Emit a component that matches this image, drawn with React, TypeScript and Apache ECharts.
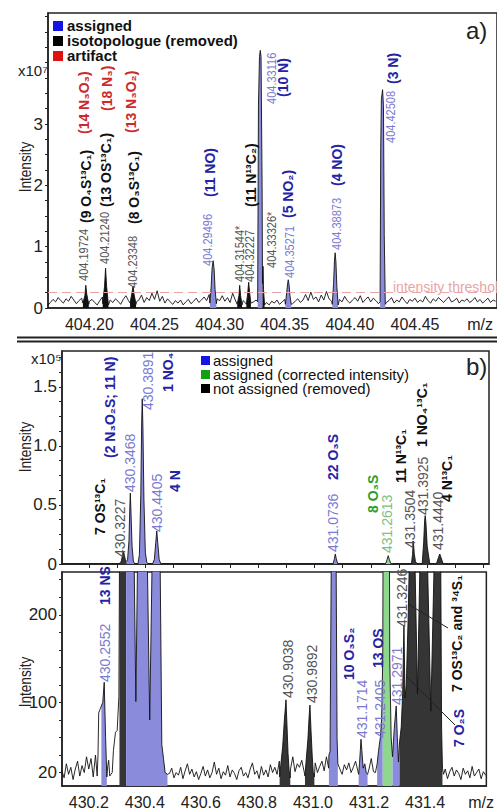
import { useEffect, useRef } from "react";
import * as echarts from "echarts";

const FONT = "'Liberation Sans', Arial, Helvetica, sans-serif";

// ---------------- panel a) data : m/z , intensity (x10^7) ----------------
const A_NOISE_START = 404.168;
const A_NOISE_STEP = 0.002;
const aNoise = [
  0.04, 0.09, 0.14, 0.10, 0.17, 0.12, 0.08, 0.15, 0.11, 0.19, 0.13, 0.07, 0.12, 0.16, 0.10, 0.06,
  0.11, 0.14, 0.09, 0.05, 0.12, 0.18, 0.10, 0.07, 0.13, 0.09, 0.15, 0.11, 0.06, 0.14, 0.20, 0.12,
  0.08, 0.16, 0.10, 0.13, 0.21, 0.09, 0.17, 0.12, 0.24, 0.14, 0.28, 0.11, 0.19, 0.08, 0.15, 0.10,
  0.06, 0.12, 0.08, 0.13, 0.05, 0.10, 0.14, 0.07, 0.11, 0.16, 0.09, 0.13, 0.18, 0.12, 0.22, 0.10,
  0.08, 0.15, 0.12, 0.20, 0.11, 0.17, 0.09, 0.24, 0.13, 0.10, 0.16, 0.12, 0.08, 0.14, 0.19, 0.10,
  0.13, 0.07, 0.12, 0.16, 0.09, 0.05, 0.11, 0.08, 0.13, 0.06, 0.10, 0.14, 0.08, 0.12, 0.07, 0.11,
  0.15, 0.09, 0.13, 0.22, 0.12, 0.26, 0.14, 0.18, 0.10, 0.21, 0.13, 0.27, 0.15, 0.11, 0.17, 0.09,
  0.14, 0.10, 0.19, 0.12, 0.08, 0.13, 0.17, 0.11, 0.20, 0.09, 0.14, 0.18, 0.10, 0.16, 0.12, 0.07,
  0.11, 0.15, 0.09, 0.12, 0.17, 0.08, 0.13, 0.10, 0.18, 0.12, 0.07, 0.14, 0.11, 0.16, 0.09, 0.13,
  0.10, 0.19, 0.12, 0.08, 0.15, 0.11, 0.17, 0.13, 0.09, 0.14, 0.18, 0.10, 0.12, 0.16, 0.08, 0.13,
  0.11, 0.15, 0.09, 0.12, 0.17, 0.10, 0.14, 0.08, 0.12, 0.16, 0.09, 0.13, 0.11,
];
const aPeak19724 = [[404.1950, 0.08], [404.1965, 0.2], [404.1972, 0.37], [404.1980, 0.22], [404.1995, 0.06]];
const aPeak21240 = [[404.2102, 0.07], [404.2116, 0.35], [404.2124, 0.65], [404.2132, 0.35], [404.2146, 0.05]];
const aPeak23348 = [[404.2312, 0.08], [404.2327, 0.25], [404.2335, 0.36], [404.2343, 0.22], [404.2358, 0.06]];
const aPeak29496 = [[404.2925, 0.08], [404.2935, 0.35], [404.2942, 0.65], [404.2950, 0.77], [404.2958, 0.62], [404.2965, 0.3], [404.2975, 0.07]];
const aPeak31544 = [[404.3135, 0.06], [404.3148, 0.2], [404.3154, 0.37], [404.3161, 0.2], [404.3172, 0.05]];
const aPeak32227 = [[404.3205, 0.06], [404.3216, 0.25], [404.3223, 0.42], [404.3230, 0.25], [404.3240, 0.08]];
const aPeak33116 = [[404.3292, 0.1], [404.3298, 3.3], [404.3306, 4.1], [404.3312, 4.2], [404.3318, 4.1], [404.3326, 2.0], [404.3329, 0.4], [404.3333, 0.68], [404.3337, 0.3], [404.3345, 0.05]];
const aPeak35271 = [[404.3505, 0.06], [404.3515, 0.25], [404.3522, 0.40], [404.3527, 0.46], [404.3533, 0.38], [404.3540, 0.2], [404.3550, 0.06]];
const aPeak38873 = [[404.3865, 0.06], [404.3875, 0.40], [404.3882, 0.78], [404.3887, 0.9], [404.3893, 0.75], [404.3900, 0.35], [404.3910, 0.05]];
const aPeak42508 = [[404.4232, 0.1], [404.4237, 2.6], [404.4242, 3.4], [404.4251, 3.56], [404.4258, 3.3], [404.4264, 1.2], [404.4272, 0.06]];
const aFills = [
  [404.1950, 404.1995, "removed"], [404.2102, 404.2146, "removed"], [404.2312, 404.2358, "removed"],
  [404.2925, 404.2975, "assigned"], [404.3135, 404.3172, "removed"], [404.3205, 404.3240, "removed"],
  [404.3292, 404.3329, "assigned"], [404.3329, 404.3345, "removed"], [404.3505, 404.3550, "assigned"],
  [404.3865, 404.3910, "assigned"], [404.4232, 404.4272, "assigned"],
];
const aThreshold = 0.25;
const aXTicks = [404.2, 404.25, 404.3, 404.35, 404.4, 404.45, 404.5];
const aYTicks = [0, 1, 2, 3];

// ---------------- panel b) data : m/z , intensity (absolute) ----------------
const B_NOISE_START = 430.104;
const B_NOISE_STEP = 0.008;
const bNoise = [
  22, 14, 30, 18, 26, 12, 24, 33, 16, 28, 20, 38, 24, 36, 15, 40, 22, 14, 19, 26,
  18, 24, 30, 16, 22, 12, 20, 27, 15, 24, 19, 28, 14, 22, 17, 25, 12, 20, 26, 15,
  21, 13, 24, 18, 28, 16, 22, 11, 19, 25, 14, 20, 17, 26, 13, 22, 30, 18, 24, 15,
  21, 12, 19, 27, 16, 23, 14, 20, 32, 18, 25, 13, 21, 17, 28, 15, 23, 19, 12, 22,
  26, 16, 20, 14, 24, 31, 18, 22, 13, 27, 17, 23, 15, 29, 20, 26, 18, 33, 22, 28,
  19, 35, 24, 38, 21, 30, 26, 34, 22, 40, 28, 36, 24, 31, 20, 27, 33, 22, 38, 25,
  30, 21, 27, 35, 24, 18, 29, 23, 31, 20, 26, 33, 22, 28, 19, 25, 30, 24, 36, 21,
  27, 32, 20, 29, 24, 35, 22, 30, 26, 18, 24, 31, 20, 27, 15, 22, 28, 18, 25, 14,
  21, 27, 16, 23, 12, 20, 26, 15, 22, 29, 17, 24, 13, 21, 26, 16, 23, 19, 12, 25,
  18, 22, 14, 27, 16, 20, 24, 13, 21, 17,
];
const bPeak2552 = [[430.2300, 16], [430.2330, 40], [430.2355, 88], [430.2400, 92], [430.2450, 96], [430.2500, 100], [430.2552, 123], [430.2600, 60], [430.2645, 15], [430.2680, 28], [430.2710, 34], [430.2750, 16]];
const bCluster430 = [
  [430.2790, 18], [430.2837, 20], [430.2880, 45], [430.2954, 66], [430.3014, 68], [430.3075, 107], [430.3096, 260],
  [430.3150, 2500], [430.3195, 8000], [430.3227, 11000], [430.3260, 7000], [430.3300, 2600], [430.3333, 2200],
  [430.3370, 3500], [430.3420, 20000], [430.3450, 48000], [430.3468, 60000], [430.3490, 45000], [430.3530, 15000],
  [430.3575, 2500], [430.3620, 260], [430.3680, 101], [430.3740, 260], [430.3790, 8000], [430.3840, 60000],
  [430.3870, 120000], [430.3891, 140000], [430.3915, 115000], [430.3950, 55000], [430.4000, 10000], [430.4050, 1500],
  [430.4090, 260], [430.4175, 80], [430.4260, 260], [430.4320, 4000], [430.4370, 18000], [430.4405, 28000],
  [430.4440, 18000], [430.4490, 4000], [430.4547, 260], [430.4607, 52], [430.4670, 35], [430.4724, 20], [430.4809, 18],
];
const bPeak9038 = [[430.8811, 15], [430.8850, 28], [430.8920, 50], [430.8980, 80], [430.9038, 103], [430.9075, 72], [430.9110, 42], [430.9150, 22], [430.9190, 14]];
const bPeak9892 = [[430.9715, 16], [430.9760, 35], [430.9820, 58], [430.9860, 82], [430.9892, 97], [430.9930, 68], [430.9975, 38], [431.0010, 20], [431.0050, 15]];
const bPeak0736 = [[431.0569, 40], [431.0610, 44], [431.0660, 300], [431.0705, 4500], [431.0736, 8500], [431.0770, 4500], [431.0820, 300], [431.0860, 60], [431.0888, 30]];
const bPeak1714 = [[431.1630, 18], [431.1660, 30], [431.1690, 45], [431.1714, 58], [431.1745, 45], [431.1790, 25], [431.1850, 30], [431.1900, 20], [431.1948, 18]];
const bCluster431 = [
  [431.2230, 20], [431.2290, 30], [431.2340, 45], [431.2405, 60], [431.2450, 80], [431.2490, 150], [431.2530, 600],
  [431.2575, 4000], [431.2613, 7000], [431.2650, 4000], [431.2700, 600], [431.2740, 150], [431.2790, 60],
  [431.2840, 38], [431.2900, 70], [431.2971, 96], [431.3010, 60], [431.3050, 32], [431.3090, 55], [431.3150, 72],
  [431.3200, 110], [431.3246, 188], [431.3285, 105], [431.3330, 120], [431.3400, 200], [431.3438, 260],
  [431.3475, 8000], [431.3504, 19500], [431.3535, 9000], [431.3580, 2000], [431.3640, 260], [431.3729, 110],
  [431.3818, 260], [431.3870, 18000], [431.3905, 37000], [431.3925, 41000], [431.3950, 35000], [431.3995, 15000],
  [431.4087, 260], [431.4206, 90], [431.4325, 260], [431.4395, 5500], [431.4440, 8500], [431.4485, 5500],
  [431.4560, 260], [431.4590, 70], [431.4620, 25], [431.4660, 18],
];
const bFills = [
  [430.2450, 430.2645, "assigned"], [430.3096, 430.3333, "removed"], [430.3333, 430.4809, "assigned"],
  [430.8811, 430.9190, "removed"], [430.9715, 431.0050, "removed"], [431.0569, 431.0888, "assigned"],
  [431.1630, 431.1948, "assigned"], [431.2290, 431.2490, "assigned"], [431.2490, 431.2840, "corrected"],
  [431.2840, 431.3090, "assigned"], [431.3090, 431.4620, "removed"],
];
const bXLabels = [430.2, 430.4, 430.6, 430.8, 431.0, 431.2, 431.4, 431.6];
const bXTicks = [430.2, 430.3, 430.4, 430.5, 430.6, 430.7, 430.8, 430.9, 431.0, 431.1, 431.2, 431.3, 431.4, 431.5, 431.6];
const bTopYLabels = [0, 50000, 100000, 150000];
const bBotYLabels = [20, 100, 200];
const bBotYTicks = [20, 40, 60, 80, 100, 120, 140, 160, 180, 200, 220, 240];

// ---------------- helpers ----------------
function buildTrace(start: number, step: number, noise: number[], peaks: number[][][]) {
  const pts: number[][] = [];
  noise.forEach((v, i) => {
    const x = +(start + i * step).toFixed(4);
    const inside = peaks.some((p) => x >= p[0][0] && x <= p[p.length - 1][0]);
    if (!inside) pts.push([x, v]);
  });
  peaks.forEach((p) => p.forEach((q) => pts.push(q)));
  pts.sort((a, b) => a[0] - b[0]);
  return pts;
}
const inRange = (trace: number[][], a: number, b: number) =>
  trace.filter((p) => p[0] >= a - 1e-7 && p[0] <= b + 1e-7);

const COL = {
  fillBlue: "#8b8bdc",
  fillGreen: "#8fd68f",
  fillDarkA: "#111111",
  fillDarkB: "#353535",
  grey: "#555555",
  lblue: "#7a7ad2",
  lgreen: "#80c080",
  blue: "#2323a6",
  red: "#cc2a2a",
  green: "#2e9e2e",
  black: "#111111",
  axis: "#222222",
};

const vt = (x: number, yb: number, text: string, fill: string, size: number, bold: boolean, sx = 1) => ({
  type: "text", x, y: yb, rotation: Math.PI / 2, scaleX: sx, z: 100,
  style: { text, fill, fontSize: size, fontWeight: bold ? "bold" : "normal", fontFamily: FONT, align: "left", verticalAlign: "middle" },
});
const ht = (x: number, y: number, text: string, fill: string, size: number, bold = false, align = "left", lh?: number) => ({
  type: "text", x, y, z: 100,
  style: { text, fill, fontSize: size, fontWeight: bold ? "bold" : "normal", fontFamily: FONT, align, verticalAlign: "middle", ...(lh ? { lineHeight: lh } : {}) },
});
const sq = (x: number, y: number, w: number, fill: string) => ({ type: "rect", z: 100, shape: { x, y, width: w, height: w }, style: { fill } });
const ln = (x1: number, y1: number, x2: number, y2: number, w: number) => ({ type: "line", z: 100, shape: { x1, y1, x2, y2 }, style: { stroke: COL.axis, lineWidth: w } });

export default function App() {
  const ref = useRef<HTMLDivElement>(null);
  useEffect(() => {
    if (!ref.current) return;
    const chart = echarts.init(ref.current, undefined, { renderer: "svg" });

    const aTrace = buildTrace(A_NOISE_START, A_NOISE_STEP, aNoise, [
      aPeak19724, aPeak21240, aPeak23348, aPeak29496, aPeak31544, aPeak32227, aPeak33116, aPeak35271, aPeak38873, aPeak42508,
    ]);
    const bTrace = buildTrace(B_NOISE_START, B_NOISE_STEP, bNoise, [
      bPeak2552, bCluster430, bPeak9038, bPeak9892, bPeak0736, bPeak1714, bCluster431,
    ]);

    const fillColorA: any = { assigned: COL.fillBlue, removed: COL.fillDarkA, corrected: COL.fillGreen };
    const fillColorB: any = { assigned: COL.fillBlue, removed: COL.fillDarkB, corrected: COL.fillGreen };

    const fillSeries = (trace: number[][], fills: any[], colors: any, axis: number) =>
      fills.map((f) => ({
        type: "line", xAxisIndex: axis, yAxisIndex: axis, data: inRange(trace, f[0], f[1]),
        symbol: "none", silent: true, z: 1, clip: true,
        lineStyle: { width: 0, opacity: 0 }, areaStyle: { color: colors[f[2]], opacity: 1, origin: "start" },
      }));
    const traceSeries = (trace: number[][], axis: number, extra: any = {}) => ({
      type: "line", xAxisIndex: axis, yAxisIndex: axis, data: trace, symbol: "none", silent: true, z: 3, clip: true,
      lineStyle: { color: "#111", width: 0.9 }, ...extra,
    });

    const axisLabelStyle = { fontSize: 16, color: "#222", fontFamily: FONT };
    const A_MIN = 404.16819, A_MAX = 404.51299;
    const B_MIN = 430.1045, B_MAX = 431.6187;

    const option: any = {
      animation: false,
      grid: [
        { left: 48, right: -2, top: 13, bottom: 502, show: true, borderColor: COL.axis, borderWidth: 1.5 },
        { left: 62, right: 8, top: 351, bottom: 246, show: true, borderColor: COL.axis, borderWidth: 1.5 },
        { left: 62, right: 8, top: 572, bottom: 23, show: true, borderColor: COL.axis, borderWidth: 1.5 },
      ],
      xAxis: [
        {
          type: "value", gridIndex: 0, min: A_MIN, max: A_MAX, splitLine: { show: false },
          axisLine: { show: true, onZero: false, lineStyle: { color: COL.axis, width: 1.5 } },
          axisTick: { show: false },
          axisLabel: { ...axisLabelStyle, margin: 8, customValues: aXTicks, formatter: (v: number) => (v > 404.49 ? "m/z" : v.toFixed(2)) },
        },
        {
          type: "value", gridIndex: 1, min: B_MIN, max: B_MAX, splitLine: { show: false },
          axisLine: { show: true, onZero: false, lineStyle: { color: COL.axis, width: 1.5 } },
          axisTick: { show: true, customValues: bXTicks, length: 4, lineStyle: { color: COL.axis } },
          axisLabel: { show: false },
        },
        {
          type: "value", gridIndex: 2, min: B_MIN, max: B_MAX, splitLine: { show: false },
          axisLine: { show: true, onZero: false, lineStyle: { color: COL.axis, width: 1.5 } },
          axisTick: { show: false },
          axisLabel: { ...axisLabelStyle, margin: 8, customValues: bXLabels, formatter: (v: number) => (v > 431.55 ? "m/z" : v.toFixed(1)) },
        },
      ],
      yAxis: [
        {
          type: "value", gridIndex: 0, min: 0, max: 4.81, splitLine: { show: false },
          axisLine: { show: true, onZero: false, lineStyle: { color: COL.axis, width: 1.5 } },
          axisTick: { show: true, length: 3, customValues: [0, 0.25, 0.5, 0.75, 1, 1.25, 1.5, 1.75, 2, 2.25, 2.5, 2.75, 3, 3.25, 3.5, 3.75, 4, 4.25, 4.5, 4.75], lineStyle: { color: COL.axis } },
          axisLabel: { ...axisLabelStyle, fontSize: 17, margin: 5, customValues: aYTicks },
        },
        {
          type: "value", gridIndex: 1, min: 0, max: 180500, splitLine: { show: false },
          axisLine: { show: true, onZero: false, lineStyle: { color: COL.axis, width: 1.5 } },
          axisTick: { show: true, length: 3, customValues: [0, 12500, 25000, 37500, 50000, 62500, 75000, 87500, 100000, 112500, 125000, 137500, 150000, 162500, 175000], lineStyle: { color: COL.axis } },
          axisLabel: { ...axisLabelStyle, fontSize: 17, margin: 5, customValues: bTopYLabels, formatter: (v: number) => (v === 0 ? "0" : (v / 1e5).toFixed(1)) },
        },
        {
          type: "value", gridIndex: 2, min: 4.67, max: 248.8, splitLine: { show: false },
          axisLine: { show: true, onZero: false, lineStyle: { color: COL.axis, width: 1.5 } },
          axisTick: { show: true, length: 3, customValues: bBotYTicks, lineStyle: { color: COL.axis } },
          axisLabel: { ...axisLabelStyle, fontSize: 17, margin: 5, customValues: bBotYLabels },
        },
      ],
      series: [
        ...fillSeries(aTrace, aFills, fillColorA, 0),
        traceSeries(aTrace, 0, {
          markLine: {
            silent: true, symbol: "none", label: { show: false }, animation: false,
            lineStyle: { color: "#e9a5a5", type: [9, 5], width: 1 },
            data: [{ yAxis: aThreshold }],
          },
        }),
        ...fillSeries(bTrace, bFills, fillColorB, 1),
        traceSeries(bTrace, 1),
        ...fillSeries(bTrace, bFills, fillColorB, 2),
        traceSeries(bTrace, 2),
      ],
      graphic: [
        // separators
        ln(17, 337.5, 497, 337.5, 2),
        ln(17, 341.5, 497, 341.5, 2),
        // panel a texts
        ht(18, 70, "x10⁷", "#222", 15),
        { ...ht(26, 167, "Intensity", "#222", 16, false, "center"), rotation: Math.PI / 2, scaleX: 0.85 },
        ht(466, 30, "a)", "#222", 24),
        sq(53, 21, 10, "#1414e6"), ht(67, 25, "assigned", COL.black, 15, true, "left", 15),
        sq(53, 36, 10, "#000000"), ht(67, 40, "isotopologue (removed)", COL.black, 15, true, "left", 15),
        sq(53, 51, 10, "#e01010"), ht(67, 55, "artifact", COL.black, 15, true, "left", 15),
        ht(393, 287, "intensity threshold", "#e9a5a5", 14),
        vt(84, 281, "404.19724", COL.grey, 12, false, 0.92),
        vt(105, 264, "404.21240", COL.grey, 12, false, 0.92),
        vt(133, 288, "404.23348", COL.grey, 12, false, 0.92),
        vt(208, 266, "404.29496", COL.lblue, 12, false, 0.92),
        vt(240, 282, "404.31544*", COL.grey, 12, false, 0.92),
        vt(250, 282, "404.32227", COL.grey, 12, false, 0.92),
        vt(272, 268, "404.33326*", COL.grey, 12, false, 0.92),
        vt(290, 278, "404.35271", COL.lblue, 12, false, 0.92),
        vt(337, 250, "404.38873", COL.lblue, 12, false, 0.92),
        vt(272, 104, "404.33116", COL.lblue, 12, false, 0.92),
        vt(391, 143, "404.42508", COL.lblue, 12, false, 0.92),
        vt(86, 223, "(9 O₄S¹³C₁)", COL.black, 14, true),
        vt(106, 207, "(13 OS¹³C₁)", COL.black, 14, true),
        vt(134, 224, "(8 O₃S¹³C₁)", COL.black, 14, true),
        vt(210, 197, "(11 NO)", COL.blue, 14, true),
        vt(251, 207, "(11 N¹³C₂)", COL.black, 14, true),
        vt(283, 97, "(10 N)", COL.blue, 14, true),
        vt(288, 218, "(5 NO₂)", COL.blue, 14, true),
        vt(337, 186, "(4 NO)", COL.blue, 14, true),
        vt(393, 84, "(3 N)", COL.blue, 14, true),
        vt(84, 134, "(14 N₃O₃)", COL.red, 14, true),
        vt(107, 111, "(18 N₃)", COL.red, 14, true),
        vt(131, 133, "(13 N₃O₂)", COL.red, 14, true),
        // panel b texts
        ht(31, 358, "x10⁵", "#222", 15),
        { ...ht(26, 447, "Intensity", "#222", 16, false, "center"), rotation: Math.PI / 2, scaleX: 0.85 },
        { ...ht(26, 682, "Intensity", "#222", 16, false, "center"), rotation: Math.PI / 2, scaleX: 0.85 },
        ht(466, 366, "b)", "#222", 24),
        sq(201, 356, 9, "#1414e6"), ht(213, 360, "assigned", COL.black, 15, false, "left", 14),
        sq(201, 370, 9, "#12a012"), ht(213, 374, "assigned (corrected intensity)", COL.black, 15, false, "left", 14),
        sq(201, 384, 9, "#000000"), ht(213, 388, "not assigned (removed)", COL.black, 15, false, "left", 14),
        vt(100, 535, "7 OS¹³C₁", COL.black, 14, true),
        vt(120, 557, "430.3227", COL.grey, 14),
        vt(130, 492, "430.3468", COL.lblue, 14),
        vt(110, 458, "(2 N₃O₂S; 11 N)", COL.blue, 14, true),
        vt(148, 410, "430.3891", COL.lblue, 14),
        vt(168, 392, "1 NO₄", COL.blue, 14, true),
        vt(157, 532, "430.4405", COL.lblue, 14),
        vt(175, 492, "4 N", COL.blue, 14, true),
        vt(333, 552, "431.0736", COL.lblue, 14),
        vt(333, 480, "22 O₃S", COL.blue, 14, true),
        vt(387, 553, "431.2613", COL.lgreen, 14),
        vt(373, 513, "8 O₃S", COL.green, 14, true),
        vt(410, 548, "431.3504", COL.grey, 14),
        vt(401, 483, "11 N¹³C₁", COL.black, 14, true),
        vt(423, 515, "431.3925", COL.grey, 14),
        vt(422, 447, "1 NO₄¹³C₁", COL.black, 14, true),
        vt(438, 550, "431.4440", COL.grey, 14),
        vt(447, 502, "4 N¹³C₁", COL.black, 14, true),
        vt(105, 605, "13 NS", COL.blue, 14, true),
        vt(105, 682, "430.2552", COL.lblue, 14),
        vt(288, 698, "430.9038", COL.grey, 14),
        vt(312, 703, "430.9892", COL.grey, 14),
        vt(349, 680, "10 O₃S₂", COL.blue, 14, true),
        vt(378, 668, "13 OS", COL.blue, 14, true),
        vt(362, 738, "431.1714", COL.lblue, 14),
        vt(380, 738, "431.2405", COL.lblue, 14),
        vt(397, 705, "431.2971", COL.lblue, 14),
        vt(402, 627, "431.3246", COL.grey, 14),
        vt(457, 692, "7 OS¹³C₂ and ³⁴S₁", COL.black, 14, true),
        vt(459, 747, "7 O₂S", COL.blue, 14, true),
        ln(408, 604, 448, 628, 1),
        ln(407, 677, 455, 725, 1),
      ],
    };
    chart.setOption(option);
    return () => chart.dispose();
  }, []);
  return <div ref={ref} style={{ position: "fixed", left: 0, top: 0, width: 497, height: 810, background: "#fff" }} />;
}
